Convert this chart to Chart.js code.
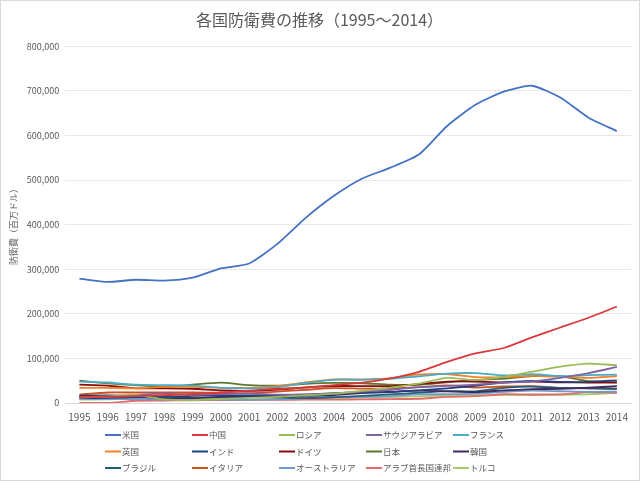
<!DOCTYPE html>
<html lang="ja">
<head>
  <meta charset="UTF-8">
  <title>各国防衛費の推移</title>
  <script src="https://cdn.jsdelivr.net/npm/chart.js"></script>
  <style>
    body {
      margin: 0;
      background: #fff;
    }
    #wrap {
      position: relative;
      width: 640px;
      height: 481px;
      box-sizing: border-box;
      border: 1px solid #d9d9d9;
    }
    canvas {
      display: block;
    }
  </style>
</head>
<body>
  <div id="wrap"><canvas id="defChart" width="638" height="479"></canvas></div>

  <script>
    // 年
    const years = ['1995', '1996', '1997', '1998', '1999', '2000', '2001', '2002', '2003', '2004',
                   '2005', '2006', '2007', '2008', '2009', '2010', '2011', '2012', '2013', '2014'];

    // 各国の防衛費（百万ドル）
    const usa = [278856, 271417, 276324, 274278, 280969, 301697, 312743, 356720, 415223, 464676,
                 503353, 527660, 556961, 621131, 668567, 698180, 711338, 684780, 639704, 609914];
    const china = [12600, 13800, 15400, 17400, 20200, 22900, 27900, 32000, 34600, 40300,
                   45900, 55300, 70000, 92000, 111000, 123300, 147300, 169300, 191200, 216400];
    const russia = [12000, 15000, 18000, 8000, 6500, 9200, 11700, 13900, 16900, 20900,
                    27300, 34500, 43500, 56200, 51500, 58700, 70200, 81500, 88400, 84700];
    const saudi = [13200, 13300, 18200, 21000, 18300, 19900, 21100, 18900, 19300, 21000,
                   25400, 29600, 35500, 38200, 41300, 45200, 48500, 56500, 67000, 80800];
    const france = [48000, 46000, 41000, 40000, 39000, 34000, 33000, 35000, 45000, 52000,
                    52000, 54000, 60000, 66000, 67000, 61800, 64600, 60000, 62400, 63600];
    const uk = [34000, 34000, 33000, 36000, 36000, 34000, 34000, 38000, 46000, 53000,
                53000, 56000, 64000, 65000, 58000, 58000, 61000, 58500, 56200, 60500];
    const india = [10800, 11400, 13300, 13300, 15900, 16800, 17000, 17200, 19000, 22000,
                   23700, 24600, 28300, 33000, 38700, 46100, 49600, 47200, 47400, 50900];
    const germany = [41000, 39000, 33000, 33000, 32000, 28000, 27000, 30000, 35000, 38000,
                     38000, 38000, 42500, 48100, 48000, 46300, 48100, 46500, 45900, 46100];
    const japan = [50000, 44000, 40000, 36000, 41000, 45500, 40000, 39000, 42800, 45100,
                   44300, 41100, 40500, 46400, 51500, 54700, 60500, 60000, 49000, 45800];
    const korea = [16000, 17000, 15000, 10000, 11000, 13800, 13200, 14100, 15900, 17900,
                   22200, 25200, 27700, 26100, 24600, 28200, 30900, 31900, 34300, 37600];
    const brazil = [15400, 14600, 15900, 15700, 10900, 13000, 14300, 12600, 11000, 13100,
                    15900, 19300, 23100, 26800, 26100, 34000, 36900, 33900, 32900, 31700];
    const italy = [19000, 23500, 23500, 24000, 23800, 23000, 22000, 25500, 29600, 33200,
                   32100, 32800, 35400, 39400, 34700, 37000, 37700, 33900, 33100, 30900];
    const australia = [8500, 9000, 9000, 7800, 8300, 7500, 7100, 8000, 10400, 12600,
                       13900, 15400, 19200, 19700, 20900, 24900, 27700, 26300, 24800, 25400];
    const uae = [0, 0, 5000, 5500, 6000, 6500, 6800, 7000, 7400, 7700,
                 8000, 8800, 9500, 13700, 15300, 19600, 19100, 19400, 24500, 22800];
    const turkey = [7500, 8200, 8900, 9800, 11100, 10500, 7800, 9800, 11600, 10900,
                    12000, 13300, 14900, 16700, 17400, 18000, 17700, 18500, 19600, 22600];

    const countries = ['米国', '中国', 'ロシア', 'サウジアラビア', 'フランス',
                       '英国', 'インド', 'ドイツ', '日本', '韓国',
                       'ブラジル', 'イタリア', 'オーストラリア', 'アラブ首長国連邦', 'トルコ'];
    const seriesData = [usa, china, russia, saudi, france, uk, india, germany, japan, korea,
                        brazil, italy, australia, uae, turkey];
    const colors = ['#4472C4', '#D9393A', '#9BBB59', '#8064A2', '#4BACC6',
                    '#F58025', '#1F3F7F', '#8B0A0A', '#5F7530', '#3E2A5E',
                    '#255E79', '#C9511F', '#729ACA', '#E36B6B', '#A9CB6A'];

    const FONT = '"Noto Sans CJK JP", "Noto Sans", sans-serif';

    // 凡例を5列のグリッドで描く
    const gridLegend = {
      id: 'gridLegend',
      afterDraw(chart) {
        const c = chart.ctx;
        c.save();
        c.font = '8.5px ' + FONT;
        c.textBaseline = 'middle';
        c.fillStyle = '#595959';
        chart.data.datasets.forEach((ds, i) => {
          const x = 104 + (i % 5) * 87;
          const y = 434 + Math.floor(i / 5) * 16.5;
          c.strokeStyle = ds.borderColor;
          c.lineWidth = 2;
          c.beginPath();
          c.moveTo(x, y);
          c.lineTo(x + 16, y);
          c.stroke();
          c.fillText(ds.label, x + 17, y);
        });
        c.restore();
      }
    };

    const ctx = document.getElementById('defChart').getContext('2d');
    new Chart(ctx, {
      type: 'line',
      data: {
        labels: years,
        datasets: countries.map((name, i) => ({
          label: name,
          data: seriesData[i],
          borderColor: colors[i],
          backgroundColor: colors[i],
          borderWidth: 1.8,
          pointRadius: 0,
          tension: 0.2
        }))
      },
      options: {
        responsive: false,
        animation: false,
        layout: { padding: { left: 7, right: 8, top: 0, bottom: 57 } },
        plugins: {
          legend: { display: false },
          tooltip: { enabled: false },
          title: {
            display: true,
            text: '各国防衛費の推移（1995～2014）',
            color: '#595959',
            font: { family: FONT, size: 16, weight: 'normal' },
            padding: { top: 9, bottom: 17 }
          }
        },
        scales: {
          x: {
            offset: true,
            grid: { display: false },
            border: { color: '#d9d9d9' },
            ticks: { color: '#595959', font: { family: FONT, size: 10 }, maxRotation: 0, autoSkip: false, padding: 0 }
          },
          y: {
            min: 0,
            max: 800000,
            grid: { color: '#e8e8e8', drawTicks: false },
            border: { display: false },
            ticks: {
              stepSize: 100000,
              color: '#595959',
              padding: 6,
              font: { family: FONT, size: 9 },
              callback: v => v.toLocaleString('en-US')
            },
            title: {
              display: true,
              text: '防衛費（百万ドル）',
              color: '#595959',
              font: { family: FONT, size: 9 },
              padding: { top: 0, bottom: 2 }
            }
          }
        }
      },
      plugins: [gridLegend]
    });
  </script>
</body>
</html>
